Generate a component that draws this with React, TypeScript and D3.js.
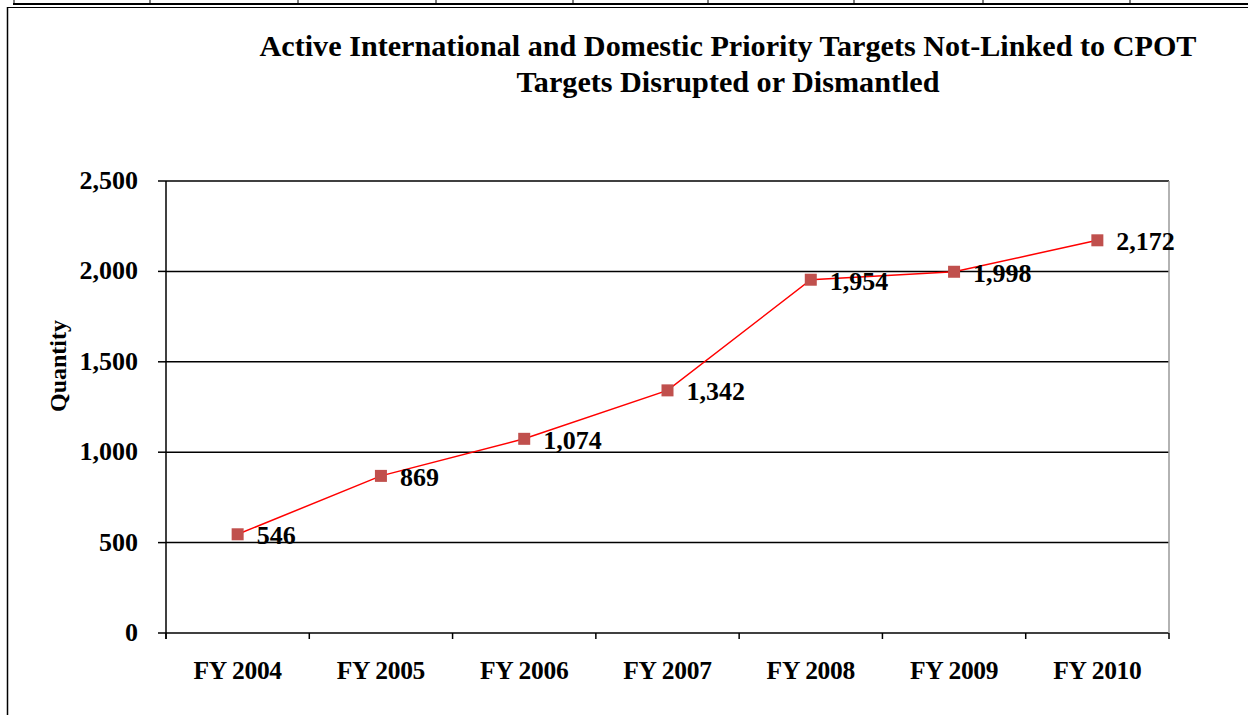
import React from "react";
import * as d3 from "d3";

const categories = ["FY 2004", "FY 2005", "FY 2006", "FY 2007", "FY 2008", "FY 2009", "FY 2010"];
const values = [546, 869, 1074, 1342, 1954, 1998, 2172];
const yTicks = [0, 500, 1000, 1500, 2000, 2500];
const titleLines = [
  "Active International and Domestic Priority Targets Not-Linked to CPOT",
  "Targets Disrupted or Dismantled",
];
const titleWidths = [937, 423];
const yAxisTitle = "Quantity";
const topTicks = [14, 150, 298, 436, 573, 708, 854, 983, 1130];

const W = 1248;
const H = 715;
const plot = { left: 166, right: 1169, top: 181, bottom: 633 };
const FONT = "'Liberation Serif', 'Times New Roman', serif";

export default function App() {
  const x = d3.scaleBand<string>().domain(categories).range([plot.left, plot.right]);
  const y = d3.scaleLinear().domain([0, 2500]).range([plot.bottom, plot.top]);
  const cx = (c: string) => (x(c) as number) + x.bandwidth() / 2;
  const line = d3
    .line<number>()
    .x((_, i) => cx(categories[i]))
    .y((d) => y(d));
  const fmt = d3.format(",");
  const boundaries = [...categories.map((c) => x(c) as number), plot.right];

  return (
    <svg
      width={W}
      height={H}
      style={{ position: "absolute", left: 0, top: 0, background: "#fff", display: "block" }}
      fontFamily={FONT}
    >
      <rect x={0} y={0} width={W} height={H} fill="#fff" />
      {/* page frame decorations */}
      {topTicks.map((t) => (
        <line key={t} x1={t} x2={t} y1={0} y2={3.5} stroke="#000" strokeWidth={1} />
      ))}
      <line x1={13} x2={W} y1={4} y2={4} stroke="#000" strokeWidth={2} />
      <line x1={7.5} x2={W} y1={7.5} y2={7.5} stroke="#000" strokeWidth={1.2} />
      <line x1={7.5} x2={7.5} y1={7} y2={H} stroke="#000" strokeWidth={1.5} />

      {/* title */}
      {titleLines.map((t, i) => (
        <text
          key={i}
          x={728}
          y={56 + i * 36}
          textAnchor="middle"
          fontWeight="bold"
          fontSize={29.5}
          textLength={titleWidths[i]}
          lengthAdjust="spacingAndGlyphs"
        >
          {t}
        </text>
      ))}

      {/* gridlines */}
      {yTicks.map((t) => (
        <g key={t}>
          <line x1={plot.left} x2={plot.right} y1={y(t)} y2={y(t)} stroke="#000" strokeWidth={1.5} />
          <line x1={plot.left - 8} x2={plot.left} y1={y(t)} y2={y(t)} stroke="#000" strokeWidth={1.5} />
          <text x={138} y={y(t) + 8} textAnchor="end" fontWeight="bold" fontSize={26}>
            {fmt(t)}
          </text>
        </g>
      ))}
      <line x1={plot.right} x2={plot.right} y1={plot.top} y2={plot.bottom} stroke="#9a9a9a" strokeWidth={1.5} />
      <line x1={plot.left} x2={plot.left} y1={plot.top} y2={plot.bottom + 6} stroke="#000" strokeWidth={1.5} />
      {boundaries.map((b, i) => (
        <line key={i} x1={b} x2={b} y1={plot.bottom} y2={plot.bottom + 6} stroke="#000" strokeWidth={1.5} />
      ))}
      {categories.map((c) => (
        <text key={c} x={cx(c)} y={679} textAnchor="middle" fontWeight="bold" fontSize={25.5} letterSpacing={-0.3}>
          {c}
        </text>
      ))}

      {/* y axis title */}
      <text
        transform={`translate(66,366) rotate(-90)`}
        textAnchor="middle"
        fontWeight="bold"
        fontSize={24}
      >
        {yAxisTitle}
      </text>

      {/* series */}
      <path d={line(values) ?? ""} fill="none" stroke="#ff0000" strokeWidth={1.5} />
      {values.map((v, i) => (
        <rect
          key={i}
          x={cx(categories[i]) - 6}
          y={y(v) - 6}
          width={12}
          height={12}
          fill="#c0504d"
        />
      ))}
      {values.map((v, i) => (
        <text key={i} x={cx(categories[i]) + 19} y={y(v) + 10} fontWeight="bold" fontSize={26}>
          {fmt(v)}
        </text>
      ))}
    </svg>
  );
}
